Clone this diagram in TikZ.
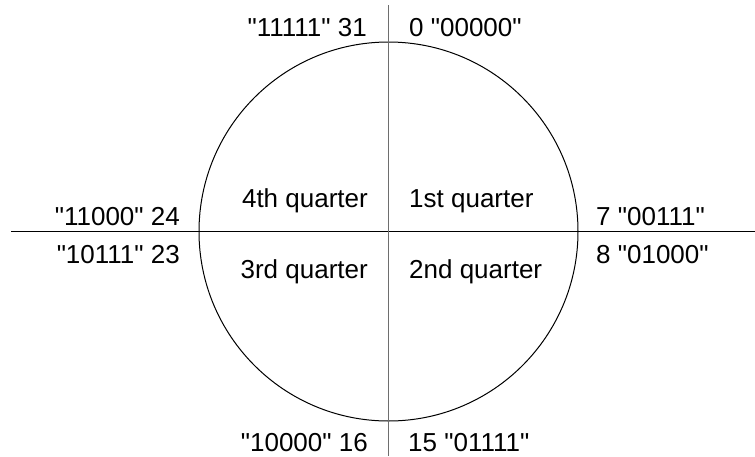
\documentclass[tikz,border=0pt]{standalone}
\usepackage{fontspec}
\setmainfont{Liberation Sans}[Ligatures=TeXOff]
\begin{document}
\begin{tikzpicture}[x=1pt,y=1pt,yscale=-1,xscale=1,
  lbl/.style={inner sep=0pt,font=\fontsize{26}{30}\selectfont},
  lblL/.style={lbl,anchor=base east},
  lblR/.style={lbl,anchor=base west}]
\useasboundingbox (0,0) rectangle (755,456);
%Coordinates of the axes
\coordinate (top) at (388.5,5);
\coordinate (bot) at (388.5,456);
\coordinate (lft) at (11,231);
\coordinate (rgt) at (755,231);
\coordinate (ctr) at (388.5,231.5);
%Shape: Circle
\draw [line width=1] (ctr) circle [radius=189.5];
%Straight Lines
\draw [line width=1] (lft) -- (rgt);
\draw [color={rgb, 255:red, 110; green, 110; blue, 110 }, line width=1.5] (top) -- (bot);
% Text Node
\node [lblL] (n31) at (367,36) {"11111" 31};
\node [lblR] (n0) at (409,36) {0 "00000"};
\node [lblL] (n24) at (180,225) {"11000" 24};
\node [lblL] (n23) at (180,263) {"10111" 23};
\node [lblR] (n7) at (596,225) {7 "00111"};
\node [lblR] (n8) at (596,263) {8 "01000"};
\node [lblL] (n16) at (368,451) {"10000" 16};
\node [lblR] (n15) at (408,451) {15 "01111"};
% Quarters
\node [lblL] (q4) at (368,207) {4th quarter};
\node [lblR] (q1) at (409,207) {1st quarter};
\node [lblL] (q3) at (368,278) {3rd quarter};
\node [lblR] (q2) at (409,278) {2nd quarter};
\end{tikzpicture}
\end{document}
